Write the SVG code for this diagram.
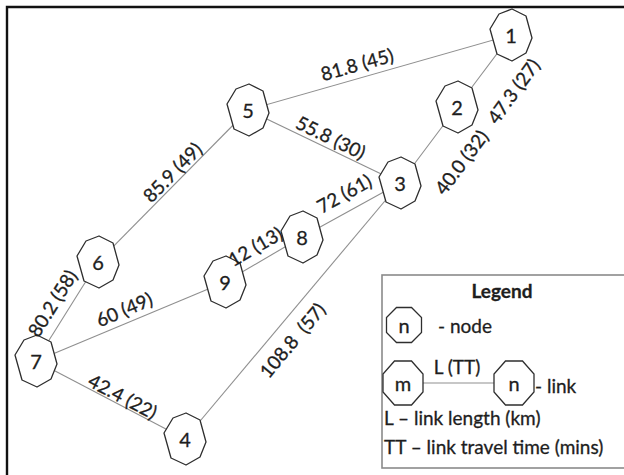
<svg xmlns="http://www.w3.org/2000/svg" width="624" height="475" viewBox="0 0 624 475">
<defs>
<style>
.edge{stroke:#8f8f8f;stroke-width:1.1;fill:none}
.frame{stroke:#111;stroke-width:2.4;fill:none}
.lbox{stroke:#8a8a8a;stroke-width:1.6;fill:#fff}
.t{font-family:Lato,"Liberation Sans",sans-serif;fill:#1e1e1e;stroke:#1e1e1e;stroke-width:0.3}
.nl{font-size:20px;text-anchor:middle;dominant-baseline:central}
.el{font-size:19px;text-anchor:middle;dominant-baseline:central;white-space:pre}
.lg{font-size:19px}
</style>
<polygon id="oct" points="-12,-21 1,-26 15,-19 21,3 15,18 1,26 -14,19 -21,-6" fill="#fff" stroke="#2e2e2e" stroke-width="1.3" stroke-linejoin="round"/>
<polygon id="loct" points="-7.5,-17.5 7.5,-17.5 17.5,-7.5 17.5,7.5 7.5,17.5 -7.5,17.5 -17.5,7.5 -17.5,-7.5" fill="#fff" stroke="#2e2e2e" stroke-width="1.3"/>
<polygon id="loct2" points="-8.5,-22 8.5,-22 20,-9 20,9 8.5,22 -8.5,22 -20,9 -20,-9" fill="#fff" stroke="#2e2e2e" stroke-width="1.3"/>
</defs>
<rect width="624" height="475" fill="#fff"/>
<path class="frame" d="M7,475 V7 H624"/>
<g id="connectors">
<line class="edge" x1="248" y1="110" x2="511" y2="35"/>
<line class="edge" x1="248" y1="110" x2="400" y2="183"/>
<line class="edge" x1="511" y1="35" x2="457" y2="107"/>
<line class="edge" x1="457" y1="107" x2="400" y2="183"/>
<line class="edge" x1="400" y1="183" x2="302" y2="237"/>
<line class="edge" x1="400" y1="183" x2="185" y2="439"/>
<line class="edge" x1="302" y1="237" x2="225" y2="282"/>
<line class="edge" x1="225" y1="282" x2="36" y2="361"/>
<line class="edge" x1="36" y1="361" x2="98" y2="262"/>
<line class="edge" x1="98" y1="262" x2="248" y2="110"/>
<line class="edge" x1="36" y1="361" x2="185" y2="439"/>
</g>
<g id="node-1"><use href="#oct" x="511" y="35"/><text class="t nl" x="511" y="35">1</text></g>
<g id="node-2"><use href="#oct" x="457" y="107"/><text class="t nl" x="457" y="107">2</text></g>
<g id="node-3"><use href="#oct" x="400" y="183"/><text class="t nl" x="400" y="183">3</text></g>
<g id="node-4"><use href="#oct" x="185" y="439"/><text class="t nl" x="185" y="439">4</text></g>
<g id="node-5"><use href="#oct" x="248" y="110"/><text class="t nl" x="248" y="110">5</text></g>
<g id="node-6"><use href="#oct" x="98" y="262"/><text class="t nl" x="98" y="262">6</text></g>
<g id="node-7"><use href="#oct" x="36" y="361"/><text class="t nl" x="36" y="361">7</text></g>
<g id="node-8"><use href="#oct" x="302" y="237"/><text class="t nl" x="302" y="237">8</text></g>
<g id="node-9"><use href="#oct" x="225" y="282"/><text class="t nl" x="225" y="282">9</text></g>
<g id="labels">
<text class="t el" transform="translate(357,64) rotate(-15.5)">81.8 (45)</text>
<text class="t el" transform="translate(331,137) rotate(26)">55.8 (30)</text>
<text class="t el" transform="translate(513,91) rotate(-54)">47.3 (27)</text>
<text class="t el" transform="translate(461,162) rotate(-53)">40.0 (32)</text>
<text class="t el" transform="translate(344,193) rotate(-29)">72 (61)</text>
<text class="t el" transform="translate(172,172) rotate(-45.4)">85.9 (49)</text>
<text class="t el" transform="translate(255,246) rotate(-30)">12 (13)</text>
<text class="t el" transform="translate(124,309) rotate(-23)">60 (49)</text>
<text class="t el" transform="translate(52,303) rotate(-58)">80.2 (58)</text>
<text class="t el" transform="translate(123,396) rotate(27.6)">42.4 (22)</text>
<text class="t el" transform="translate(292,340) rotate(-50)">108.8  (57)</text>
</g>
<g id="legend">
<rect class="lbox" x="382" y="275" width="260" height="193"/>
<text class="t lg" x="502" y="298" text-anchor="middle" font-weight="bold">Legend</text>
<use href="#loct" x="404" y="325"/>
<text class="t nl" x="404" y="325">n</text>
<text class="t lg" x="438" y="333">- node</text>
<line class="edge" x1="423" y1="383" x2="494" y2="383"/>
<use href="#loct2" x="403" y="383"/>
<text class="t nl" x="403" y="383">m</text>
<use href="#loct2" x="514" y="383"/>
<text class="t nl" x="514" y="383">n</text>
<text class="t lg" x="457" y="374" text-anchor="middle">L (TT)</text>
<text class="t lg" x="535" y="393">- link</text>
<text class="t lg" x="384" y="425">L – link length (km)</text>
<text class="t lg" x="384" y="454">TT – link travel time (mins)</text>
</g>
</svg>
